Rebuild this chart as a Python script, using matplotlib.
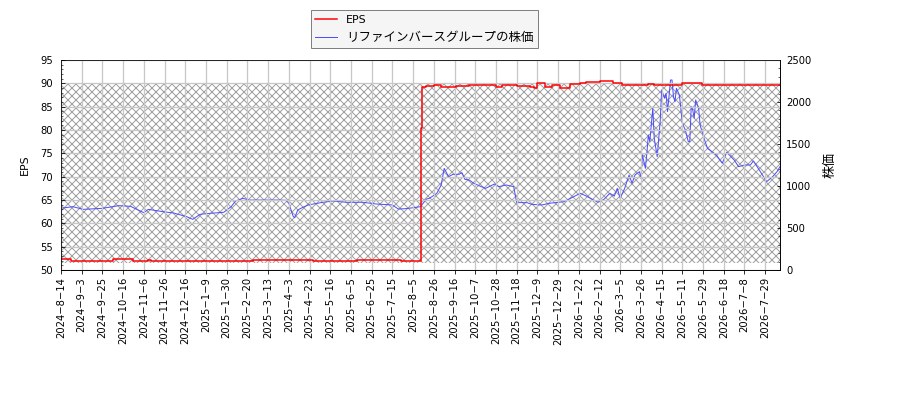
import matplotlib.pyplot as plt
from matplotlib.ticker import MultipleLocator

plt.rcParams['font.family'] = ['DejaVu Sans', 'Noto Sans CJK JP']
plt.rcParams['hatch.color'] = '#a0a0a0'
plt.rcParams['hatch.linewidth'] = 1.0

# =========================
# Data (x = trading-day index)
# =========================
tick_labels = [
    "2024-8-14", "2024-9-3", "2024-9-25", "2024-10-16", "2024-11-6", "2024-11-26",
    "2024-12-16", "2025-1-9", "2025-1-30", "2025-2-20", "2025-3-13", "2025-4-3",
    "2025-4-23", "2025-5-16", "2025-6-5", "2025-6-25", "2025-7-15", "2025-8-5",
    "2025-8-26", "2025-9-16", "2025-10-7", "2025-10-28", "2025-11-18", "2025-12-9",
    "2025-12-29", "2026-1-22", "2026-2-12", "2026-3-5", "2026-3-26", "2026-4-15",
    "2026-5-11", "2026-5-29", "2026-6-18", "2026-7-8", "2026-7-29",
]
n_days = 487

eps_idx = [0, 7, 35, 49, 59, 61, 87, 92, 130, 170, 200, 230, 243, 244, 247, 252,
           257, 267, 276, 294, 298, 308, 317, 320, 322, 327, 332, 337, 344, 351,
           355, 364, 373, 379, 397, 401, 420, 433, 486]
eps_val = [52.3, 52.0, 52.3, 52.0, 52.1, 52.0, 51.9, 52.0, 52.1, 52.0, 52.1, 52.0,
           80.4, 89.3, 89.5, 89.7, 89.3, 89.5, 89.6, 89.3, 89.6, 89.5, 89.3, 89.0,
           90.1, 89.3, 89.6, 89.0, 89.8, 90.0, 90.3, 90.4, 90.0, 89.6, 89.8, 89.6,
           90.1, 89.55, 89.55]

price_idx = [0, 8, 15, 28, 39, 47, 56, 59, 69, 76, 85, 89, 94, 101, 110, 115, 118,
             123, 127, 147, 152, 154, 157, 158, 160, 163, 167, 177, 184, 193, 204,
             213, 224, 228, 233, 240, 243, 247, 249, 254, 257, 259, 262, 265, 269,
             271, 273, 276, 279, 283, 287, 293, 296, 301, 306, 308, 315, 318, 325,
             330, 340, 351, 355, 363, 367, 371, 374, 376, 378, 381, 384, 386, 388,
             391, 392, 393, 395, 396, 397, 398, 400, 401, 403, 405, 406, 408, 409,
             410, 412, 413, 414, 415, 416, 418, 420, 422, 424, 425, 426, 427, 428,
             429, 431, 432, 435, 437, 440, 443, 447, 450, 455, 458, 462, 466, 468,
             472, 477, 481, 484, 486]
price_val = [735, 754, 722, 734, 766, 758, 682, 722, 694, 679, 635, 603, 663, 675,
             687, 754, 821, 853, 833, 833, 830, 794, 635, 623, 714, 742, 774, 806,
             821, 806, 806, 786, 774, 726, 730, 746, 754, 845, 853, 913, 1012, 1210,
             1111, 1139, 1139, 1159, 1079, 1071, 1032, 1000, 972, 1024, 992, 1012,
             992, 802, 802, 782, 774, 794, 813, 913, 881, 806, 841, 913, 880, 972,
             853, 972, 1131, 1032, 1131, 1171, 1091, 1369, 1210, 1389, 1607, 1528,
             1925, 1568, 1349, 1766, 2143, 2044, 2103, 1885, 2262, 2262, 2063, 2004,
             2163, 2083, 1746, 1667, 1528, 1528, 1944, 1905, 1806, 2024, 1925, 1726,
             1548, 1448, 1409, 1369, 1270, 1401, 1310, 1230, 1250, 1250, 1298, 1190,
             1052, 1111, 1171, 1230]

hatch_low, hatch_high = 51.6, 90.0

# =========================
# Plot
# =========================
fig = plt.figure(figsize=(12.5, 400 / 72), dpi=72)
ax1 = fig.add_axes([61 / 900, 1 - 270 / 400, (780 - 61) / 900, 210 / 400])
ax2 = ax1.twinx()
ax1.set_zorder(ax2.get_zorder() + 1)
ax1.patch.set_visible(False)
ax2.patch.set_visible(True)
ax2.patch.set_facecolor("white")

# hatched band sits in the back axes, converted from EPS units
band_lo = (hatch_low - 50) / 45 * 2500
band_hi = (hatch_high - 50) / 45 * 2500
ax2.axhspan(band_lo, band_hi, facecolor="white", hatch="xxx", linewidth=0, zorder=0)

l2, = ax2.plot(price_idx, price_val, color="#4d4dff", linewidth=1,
               label="リファインバースグループの株価")
l1, = ax1.plot(eps_idx, eps_val, color="#ff0000", linewidth=1.5,
               drawstyle="steps-post", label="EPS")

ax1.set_xlim(0, n_days - 1)
ax1.set_ylim(50, 95)
ax1.set_yticks(range(50, 96, 5))
ax1.yaxis.set_minor_locator(MultipleLocator(1))
ax2.set_ylim(0, 2500)
ax2.set_yticks(range(0, 2501, 500))
ax2.yaxis.set_minor_locator(MultipleLocator(100))

ax1.set_xticks(range(0, 14 * len(tick_labels), 14))
ax1.set_xticklabels([t.replace("-", "\u2212") for t in tick_labels], rotation=90)

ax1.tick_params(axis="y", which="both", direction="in", labelsize=10, pad=8)
ax2.tick_params(axis="y", which="both", direction="in", labelsize=10, pad=6)
ax1.tick_params(axis="x", direction="out", labelsize=10)

ax1.grid(True, color="#c8c8c8", linewidth=1.3)
ax1.set_ylabel("EPS", fontsize=11, labelpad=10)
ax2.set_ylabel("株価", fontsize=13, labelpad=12)

leg = ax1.legend([l1, l2], [l1.get_label(), l2.get_label()], loc="lower center",
                 bbox_to_anchor=(0.505, 1.03), fontsize=11, fancybox=False,
                 framealpha=1, facecolor="#f5f5f5", edgecolor="gray",
                 labelspacing=0.55)
leg.get_texts()[1].set_fontsize(12.5)

fig.savefig("out.png", dpi=72)
